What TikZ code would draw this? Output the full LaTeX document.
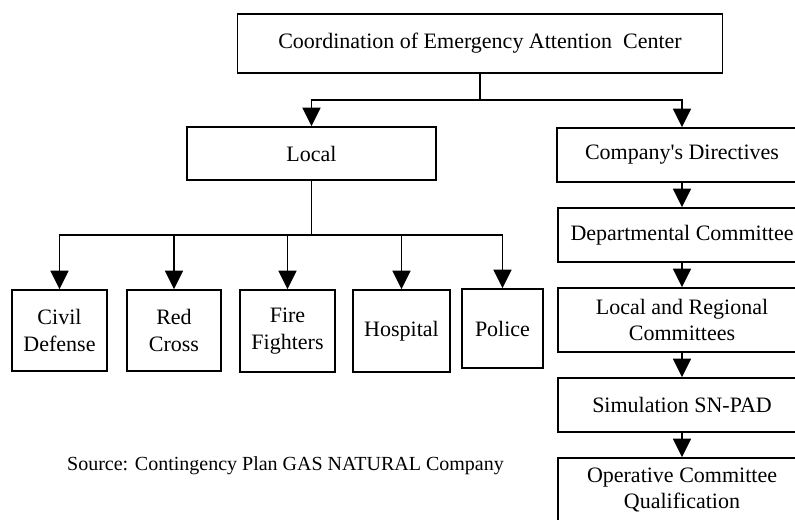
\documentclass[tikz,border=0pt]{standalone}
\usepackage{fontspec}
\setmainfont{Liberation Serif}[Ligatures=TeXOff]
\usetikzlibrary{arrows.meta}

\tikzset{every picture/.style={line width=1pt}}
\tikzset{
  orgbox/.style 2 args={draw, line width=1.1pt, inner sep=0pt, align=center,
    minimum width=#1*0.75pt, minimum height=#2*0.75pt,
    font=\fontsize{16.5}{20}\selectfont},
  link/.style={line width=1.35pt},
  arrowlink/.style={link, -{Triangle[length=14pt, width=13.5pt]}}
}

\begin{document}
\begin{tikzpicture}[x=0.75pt,y=0.75pt,yscale=-1,xscale=1]
\useasboundingbox (0,0) rectangle (795,520);
\clip (0,0) rectangle (795,520);

%Top box
\node [orgbox={485}{59}] (coord) at (480,43.5) {Coordination of Emergency Attention\ \ Center};
%Left branch
\node [orgbox={249}{53}] (local) at (311.5,153.5) {Local};
%Right column
\node [orgbox={250}{54}] (direct) at (682,155) {Company's Directives};
\node [orgbox={248}{54}] (dept) at (682,235) {Departmental Committee};
\node [orgbox={248}{64}] (regional) at (682,320) {Local and Regional\\Committees};
\node [orgbox={248}{54}] (simul) at (682,405) {Simulation SN-PAD};
\node [orgbox={248}{64}] (operat) at (682,490) {Operative Committee\\Qualification};
%Local bodies
\node [orgbox={95}{81}] (civil) at (59.5,330.5) {Civil\\Defense};
\node [orgbox={94}{81}] (redcross) at (174,330.5) {Red\\Cross};
\node [orgbox={95}{82}] (fire) at (287.5,331) {Fire\\Fighters};
\node [orgbox={97}{82}] (hospital) at (401.5,331) {Hospital};
\node [orgbox={81}{79}] (police) at (502.5,328.5) {Police};
%Source note
\node [inner sep=0pt, font=\fontsize{15}{18}\selectfont] (source) at (285.5,466) {Source: Contingency Plan GAS NATURAL Company};

%Connectors from the top box
\draw [link] (coord.south) -- ++(0,26) coordinate (split);
\draw [arrowlink] (split) -| (local.north);
\draw [arrowlink] (split) -| (direct.north);
%Connectors from Local
\draw [link] (local.south) -- ++(0,54) coordinate (lsplit);
\foreach \n in {civil,redcross,fire,hospital,police}
  \draw [arrowlink] (lsplit) -| (\n.north);
%Right column chain
\draw [arrowlink] (direct) -- (dept);
\draw [arrowlink] (dept) -- (regional);
\draw [arrowlink] (regional) -- (simul);
\draw [arrowlink] (simul) -- (operat);

\end{tikzpicture}
\end{document}
